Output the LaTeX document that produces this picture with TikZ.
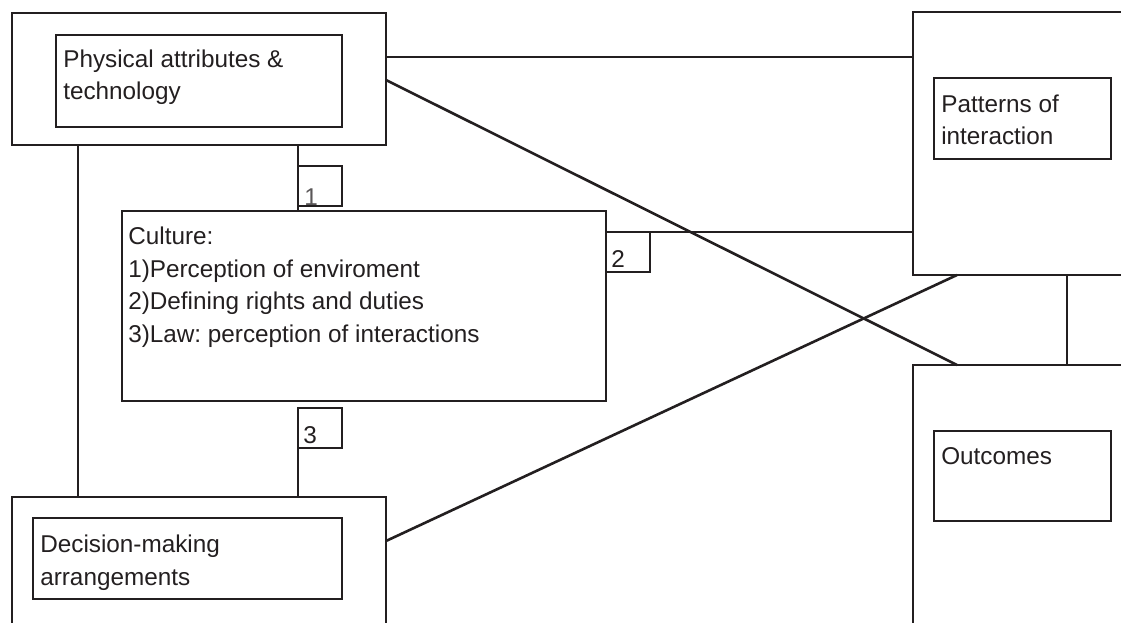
\documentclass[tikz,border=0pt]{standalone}
\usepackage{fontspec}
\setmainfont{Liberation Sans}
\usetikzlibrary{positioning}
\definecolor{ink}{RGB}{35,31,32}
\frenchspacing

\begin{document}
\begin{tikzpicture}
  [x=1pt, y=-1pt, color=ink, line width=2.6pt,
   box/.style = {draw, rectangle, anchor=north west, inner sep=0pt, outer sep=0pt},
   numbox/.style = {box, minimum width=44pt, minimum height=40pt},
   txt/.style = {anchor=base west, align=left, inner sep=0pt,
                 font=\fontsize{24.3}{32.5}\selectfont}]
  \useasboundingbox (0,0) rectangle (1121,623);
  \clip (0,0) rectangle (1121,623);

  % left column (text anchored at the baseline of its last line)
  \node[box, minimum width=374pt, minimum height=132pt] (physO) at (12,13) {};
  \node[box, minimum width=286pt, minimum height=92pt] (physI) at (56,35) {};
  \node[txt] (physT) at ([shift={(6pt,-65pt)}]physI.north west) {Physical attributes \&\\technology};

  \node[box, minimum width=484pt, minimum height=190pt] (cult) at (122,211) {};
  \node[txt] (cultT) at ([shift={(5pt,-131pt)}]cult.north west)
    {Culture:\\1)Perception of enviroment\\2)Defining rights and duties\\3)Law: perception of interactions};

  \node[box, minimum width=374pt, minimum height=150pt] (decO) at (12,497) {};
  \node[box, minimum width=309pt, minimum height=81pt] (decI) at (33,518) {};
  \node[txt] (decT) at ([shift={(6pt,-67pt)}]decI.north west) {Decision-making\\arrangements};

  % numbered tags
  \node[numbox] (n1) at (298,166) {};
  \node[txt, ink!75] (n1T) at ([shift={(5pt,1pt)}]n1.south west) {1};
  \node[numbox] (n2) at (606,232) {};
  \node[txt] (n2T) at ([shift={(4pt,5pt)}]n2.south west) {2};
  \node[numbox] (n3) at (298,408) {};
  \node[txt] (n3T) at ([shift={(4pt,5pt)}]n3.south west) {3};

  % right column
  \node[box, minimum width=240pt, minimum height=263pt] (patO) at (913,12) {};
  \node[box, minimum width=177pt, minimum height=81pt] (patI) at (934,78) {};
  \node[txt] (patT) at ([shift={(6pt,-67pt)}]patI.north west) {Patterns of\\interaction};

  \node[box, minimum width=240pt, minimum height=290pt] (outO) at (913,365) {};
  \node[box, minimum width=177pt, minimum height=90pt] (outI) at (934,431) {};
  \node[txt] (outT) at ([shift={(6pt,-33pt)}]outI.north west) {Outcomes};

  % connectors
  \draw ([xshift=66pt]physO.south west) -- ([xshift=66pt]decO.north west);
  \draw ([xshift=286pt]physO.south west) -- (n1.south west |- cult.north);
  \draw (n3.south west) -- (n3.south west |- decO.north);
  \draw ([yshift=-44pt]physO.north east) -- ([yshift=-44pt]physO.north east -| patO.west);
  \draw ([yshift=-67pt]physO.north east) -- ([xshift=44pt]outO.north west);
  \draw (n2.north west) -- (n2.north west -| patO.west);
  \draw ([yshift=-44pt]decO.north east) -- ([xshift=44pt]patO.south west);
  \draw ([xshift=154pt]patO.south west) -- ([xshift=154pt]outO.north west);
\end{tikzpicture}
\end{document}
